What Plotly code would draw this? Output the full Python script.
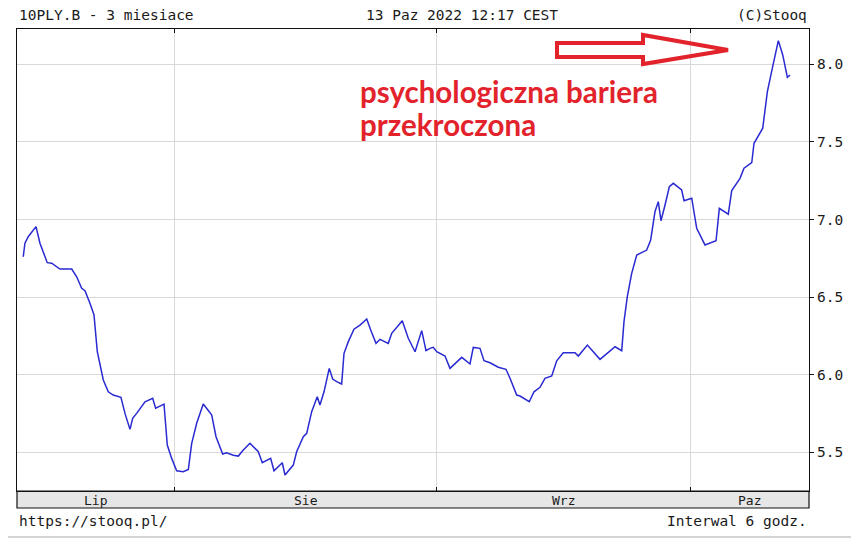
import plotly.graph_objects as go
import pandas as pd

# days counted from 2022-07-01 00:00, values are 10y PL bond yield (%)
day_offsets = [13.03, 13.23, 13.62, 14.54, 15.01, 15.87, 16.40, 17.37, 18.77, 19.36,
               19.95, 20.34, 20.93, 21.41, 21.80, 22.51, 23.10, 23.69, 24.60, 25.08,
               25.67, 25.99, 26.46, 27.45, 28.36, 28.71, 29.22, 29.70, 30.09, 30.61,
               31.20, 31.98, 32.58, 32.98, 33.57, 34.35, 35.06, 35.35, 35.86, 36.65,
               37.12, 37.91, 38.50, 39.09, 39.88, 40.87, 41.34, 41.86, 42.33, 42.73,
               43.71, 44.03, 45.01, 45.41, 46.20, 46.60, 47.19, 47.85, 48.17, 48.65,
               49.27, 49.68, 50.15, 50.74, 51.02, 51.53, 52.20, 52.91, 53.71, 54.18,
               54.81, 55.28, 56.26, 56.67, 57.92, 58.63, 59.43, 60.22, 60.73, 61.20,
               61.59, 62.00, 62.98, 63.57, 64.96, 65.94, 66.33, 67.12, 67.60, 68.31,
               69.29, 70.20, 70.68, 71.47, 71.86, 72.96, 73.52, 74.23, 74.82, 75.62,
               76.21, 76.99, 78.38, 78.77, 79.84, 81.34, 83.12, 83.91, 84.18, 84.57,
               85.09, 85.69, 86.87, 87.34, 87.85, 88.24, 88.56, 89.04, 89.55, 90.02,
               91.01, 91.29, 92.20, 92.79, 93.77, 95.08, 95.47, 96.53, 96.94, 97.92,
               98.39, 99.31, 99.58, 100.61, 100.80, 101.16, 101.87, 102.46, 102.98, 103.53,
               103.85]
yields = [6.760, 6.847, 6.889, 6.954, 6.847, 6.722, 6.718, 6.681, 6.681, 6.631,
          6.557, 6.541, 6.460, 6.385, 6.148, 5.966, 5.890, 5.869, 5.854, 5.751,
          5.648, 5.719, 5.751, 5.826, 5.848, 5.784, 5.798, 5.811, 5.547, 5.461,
          5.381, 5.375, 5.390, 5.558, 5.687, 5.811, 5.762, 5.740, 5.601, 5.489,
          5.497, 5.481, 5.476, 5.515, 5.558, 5.504, 5.433, 5.450, 5.461, 5.381,
          5.433, 5.354, 5.418, 5.504, 5.601, 5.622, 5.762, 5.858, 5.805, 5.890,
          6.041, 5.972, 5.955, 5.940, 6.138, 6.213, 6.293, 6.320, 6.359, 6.288,
          6.202, 6.228, 6.202, 6.267, 6.348, 6.235, 6.148, 6.284, 6.155, 6.170,
          6.176, 6.148, 6.120, 6.041, 6.112, 6.069, 6.176, 6.170, 6.090, 6.077,
          6.048, 6.035, 5.977, 5.869, 5.863, 5.826, 5.890, 5.919, 5.977, 5.992,
          6.090, 6.142, 6.142, 6.120, 6.191, 6.099, 6.180, 6.155, 6.342, 6.503,
          6.653, 6.771, 6.803, 6.868, 7.050, 7.115, 6.992, 7.093, 7.211, 7.233,
          7.190, 7.121, 7.137, 6.943, 6.836, 6.863, 7.072, 7.034, 7.186, 7.265,
          7.330, 7.366, 7.491, 7.588, 7.662, 7.823, 8.006, 8.152, 8.060, 7.916,
          7.931]

month_names = ["Lip", "Sie", "Wrz", "Paz"]
month_starts = ["2022-08-01", "2022-09-01", "2022-10-01"]
y_ticks = [5.5, 6.0, 6.5, 7.0, 7.5, 8.0]

base = pd.Timestamp("2022-07-01")
dates = [base + pd.Timedelta(days=d) for d in day_offsets]
x_start = base + pd.Timedelta(days=12.29)
x_end = base + pd.Timedelta(days=106.09)

# plot area on screen: x 17..809, y 29..491 (page body adds 8px offset)
def px(x):
    return (x - 17) / 792

def py(y):
    return (491 - y) / 462

mono = "DejaVu Sans Mono"
ink = "#1a1a1a"
red = "#e3232c"

fig = go.Figure(go.Scatter(
    x=dates, y=yields, mode="lines",
    line=dict(color="#2a2ad2", width=1.5),
    hoverinfo="skip",
))

# month labels centred in each month segment
bounds = [x_start] + [pd.Timestamp(m) for m in month_starts] + [x_end]
annotations = []
for i, name in enumerate(month_names):
    mid = bounds[i] + (bounds[i + 1] - bounds[i]) / 2
    annotations.append(dict(x=mid, y=py(500), xref="x", yref="paper", text=name,
                            showarrow=False, font=dict(family=mono, size=13, color=ink),
                            xanchor="center", yanchor="middle"))

annotations += [
    dict(x=0, y=py(15), xref="paper", yref="paper", text="10PLY.B - 3 miesiace",
         showarrow=False, xanchor="left", yanchor="middle",
         font=dict(family=mono, size=14.5, color=ink)),
    dict(x=px(462), y=py(15), xref="paper", yref="paper", text="13 Paz 2022 12:17 CEST",
         showarrow=False, xanchor="center", yanchor="middle",
         font=dict(family=mono, size=14.5, color=ink)),
    dict(x=1, y=py(15), xref="paper", yref="paper", text="(C)Stooq",
         showarrow=False, xanchor="right", yanchor="middle",
         font=dict(family=mono, size=14.5, color=ink)),
    dict(x=0, y=py(521), xref="paper", yref="paper", text="https://stooq.pl/",
         showarrow=False, xanchor="left", yanchor="middle",
         font=dict(family=mono, size=14.5, color=ink)),
    dict(x=1, y=py(521), xref="paper", yref="paper", text="Interwal 6 godz.",
         showarrow=False, xanchor="right", yanchor="middle",
         font=dict(family=mono, size=14.5, color=ink)),
    dict(x=px(358), y=py(91), xref="paper", yref="paper", text="<b>psychologiczna bariera</b>",
         showarrow=False, xanchor="left", yanchor="middle",
         font=dict(family="Lato", size=29.5, color=red)),
    dict(x=px(358), y=py(125), xref="paper", yref="paper", text="<b>przekroczona</b>",
         showarrow=False, xanchor="left", yanchor="middle",
         font=dict(family="Lato", size=29.5, color=red)),
]

arrow = [(557, 43), (643, 43), (643, 35), (728, 50), (643, 64), (643, 57), (557, 57)]
arrow_path = "M " + " L ".join(f"{px(a):.4f},{py(b):.4f}" for a, b in arrow) + " Z"

shapes = [
    dict(type="rect", xref="paper", yref="paper", x0=0, x1=1, y0=py(508), y1=0,
         fillcolor="#e6e6e6", line=dict(color="#111111", width=1.2), layer="below"),
    dict(type="path", xref="paper", yref="paper", path=arrow_path,
         line=dict(color=red, width=4), fillcolor="rgba(0,0,0,0)"),
    dict(type="line", xref="paper", yref="paper", x0=px(0), x1=px(859), y0=py(537), y1=py(537),
         line=dict(color="#d4d4d4", width=2)),
]

fig.update_layout(
    width=851, height=532,
    margin=dict(l=9, r=50, t=21, b=49),
    paper_bgcolor="white", plot_bgcolor="white",
    showlegend=False,
    annotations=annotations,
    shapes=shapes,
    xaxis=dict(
        type="date", range=[x_start, x_end],
        tickvals=[pd.Timestamp(m) for m in month_starts],
        showticklabels=False, ticks="inside", ticklen=4, tickcolor="#111111",
        showgrid=True, gridcolor="#d9d9d9", gridwidth=1,
        showline=True, linecolor="#111111", linewidth=1.2, mirror="ticks",
        zeroline=False,
    ),
    yaxis=dict(
        side="right", range=[5.251, 8.227],
        tickvals=y_ticks, tickformat=".1f",
        ticks="outside", ticklen=4, tickcolor="#111111",
        tickfont=dict(family=mono, size=14.5, color=ink),
        showgrid=True, gridcolor="#d9d9d9", gridwidth=1,
        showline=True, linecolor="#111111", linewidth=1.2, mirror=True,
        zeroline=False,
    ),
)

fig.write_html("out.html")
